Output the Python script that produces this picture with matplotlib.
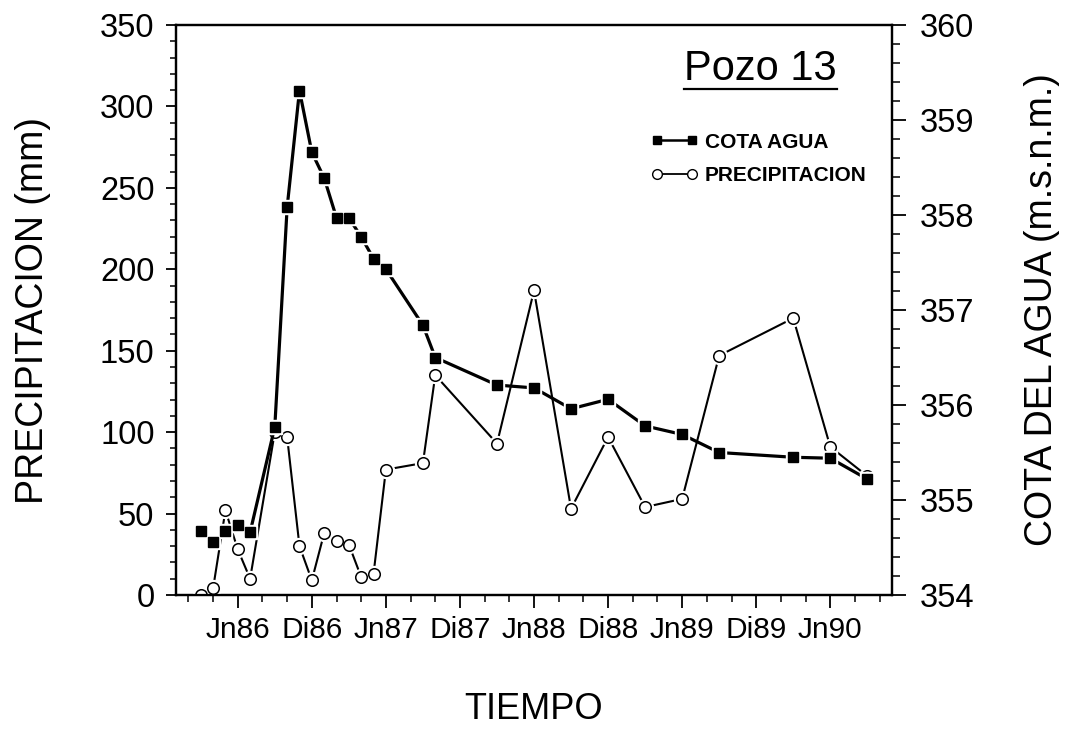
import matplotlib
matplotlib.use("Agg")
import matplotlib.pyplot as plt
from matplotlib.lines import Line2D
from matplotlib.ticker import MultipleLocator, FixedLocator, FormatStrFormatter

# ---- data (months counted from January 1986 = 0) ----
meses = [2, 3, 4, 5, 6, 8, 9, 10, 11, 12, 13, 14, 15, 16, 17,
         20, 21, 26, 29, 32, 35, 38, 41, 44, 50, 53, 56]
cota = [354.67, 354.56, 354.67, 354.74, 354.66, 355.77, 358.08, 359.31,
        358.66, 358.39, 357.97, 357.97, 357.77, 357.54, 357.43, 356.84,
        356.50, 356.21, 356.18, 355.96, 356.06, 355.78, 355.69, 355.50,
        355.45, 355.44, 355.22]
precip = [0, 4, 52, 28, 10, 100, 97, 30, 9, 38, 33, 31, 11, 13, 77,
          81, 135, 93, 187, 53, 97, 54, 59, 147, 170, 91, 73]

tick_meses = [5, 11, 17, 23, 29, 35, 41, 47, 53]
tick_labels = ["Jn86", "Di86", "Jn87", "Di87", "Jn88", "Di88", "Jn89", "Di89", "Jn90"]

plt.rcParams["font.family"] = ["Liberation Sans", "DejaVu Sans"]

fig = plt.figure(figsize=(10.82, 7.29), dpi=100)
ax = fig.add_axes([0.1627, 0.1838, 0.6617, 0.7819])
ax2 = ax.twinx()

# precipitation (left axis): open circles
ax.plot(meses, precip, color="black", lw=1.5, zorder=2)
ax.plot(meses, precip, ls="none", marker="o", ms=11.5, mfc="white", mec="white", zorder=3)
ax.plot(meses, precip, ls="none", marker="o", ms=8.3, mfc="white", mec="black", mew=1.1, zorder=4)

# water level (right axis): filled squares
ax2.plot(meses, cota, color="black", lw=2.3, zorder=2)
ax2.plot(meses, cota, ls="none", marker="s", ms=10, mfc="white", mec="white", zorder=3)
ax2.plot(meses, cota, ls="none", marker="s", ms=6.8, mfc="black", mec="black", zorder=4)

ax.set_xlim(0, 58)
ax.set_ylim(0, 350)
ax2.set_ylim(354, 360)

ax.xaxis.set_major_locator(FixedLocator(tick_meses))
ax.set_xticklabels(tick_labels)
ax.xaxis.set_minor_locator(FixedLocator(list(range(1, 58, 2))))
ax.yaxis.set_major_locator(MultipleLocator(50))
ax.yaxis.set_minor_locator(MultipleLocator(10))
ax2.yaxis.set_major_locator(MultipleLocator(1))
ax2.yaxis.set_minor_locator(MultipleLocator(0.2))
ax2.yaxis.set_major_formatter(FormatStrFormatter("%d"))

for a in (ax, ax2):
    for s in a.spines.values():
        s.set_linewidth(1.6)

ax.tick_params(axis="y", which="major", direction="out", length=7.5, width=1.3, labelsize=23.5, pad=8)
ax.tick_params(axis="y", which="minor", direction="out", length=4.5, width=1.1)
ax.tick_params(axis="x", which="major", direction="out", length=9, width=1.3, labelsize=21.5, pad=6)
ax.tick_params(axis="x", which="minor", direction="out", length=5, width=1.1)
ax2.tick_params(axis="y", which="major", direction="out", length=10, width=1.3, labelsize=23.5, pad=10)
ax2.tick_params(axis="y", which="minor", direction="out", length=6, width=1.1)

ax.set_xlabel("TIEMPO", fontsize=26, labelpad=35)
ax.set_ylabel("PRECIPITACION (mm)", fontsize=27, labelpad=35)
ax2.set_ylabel("COTA DEL AGUA (m.s.n.m.)", fontsize=27, labelpad=36)

# title inside plot, underlined
t = ax.text(0.923, 0.9035, "Pozo 13", transform=ax.transAxes, ha="right",
            va="baseline", fontsize=30)

# legend
h1 = Line2D([], [], color="black", lw=1.8, marker="s", ms=5.5, mfc="black")
h2 = Line2D([], [], color="black", lw=1.3, marker="o", ms=7, mfc="white", mew=1.0)
leg = ax2.legend([h1, h2], ["COTA AGUA", "PRECIPITACION"], loc="upper left",
                 bbox_to_anchor=(0.663, 0.8114), frameon=False, numpoints=2,
                 prop={"size": 15, "weight": "bold"}, handlelength=2.3,
                 handletextpad=0.3, borderpad=0, borderaxespad=0, labelspacing=0.7)

fig.canvas.draw()
bb = t.get_window_extent()
inv = ax.transAxes.inverted()
(x0, _), (x1, _) = inv.transform([(bb.x0, bb.y0), (bb.x1, bb.y0)])
ax.add_line(Line2D([x0, x1], [0.8877, 0.8877], transform=ax.transAxes,
                   color="black", lw=1.6, clip_on=False))

fig.savefig("out.png", dpi=100)
